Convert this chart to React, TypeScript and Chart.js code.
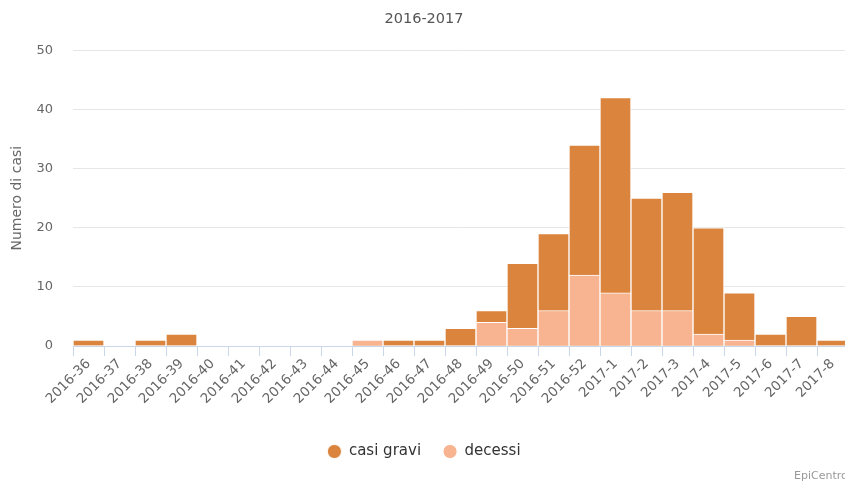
import React, { useEffect, useRef } from "react";
import { Chart, registerables } from "chart.js";

Chart.register(...registerables);

const categories = [
  "2016-36", "2016-37", "2016-38", "2016-39", "2016-40", "2016-41", "2016-42",
  "2016-43", "2016-44", "2016-45", "2016-46", "2016-47", "2016-48", "2016-49",
  "2016-50", "2016-51", "2016-52", "2017-1", "2017-2", "2017-3", "2017-4",
  "2017-5", "2017-6", "2017-7", "2017-8",
];
const casiGravi = [1, 0, 1, 2, 0, 0, 0, 0, 0, 1, 1, 1, 3, 6, 14, 19, 34, 42, 25, 26, 20, 9, 2, 5, 1];
const decessi = [0, 0, 0, 0, 0, 0, 0, 0, 0, 1, 0, 0, 0, 4, 3, 6, 12, 9, 6, 6, 2, 1, 0, 0, 0];
const yTicks = [0, 10, 20, 30, 40, 50];

const FONT = "'DejaVu Sans', sans-serif";

export default function App() {
  const ref = useRef<HTMLCanvasElement | null>(null);
  useEffect(() => {
    if (!ref.current) return;
    const chart = new Chart(ref.current, {
      type: "bar",
      data: {
        labels: categories,
        datasets: [
          {
            label: "casi gravi",
            data: casiGravi,
            backgroundColor: "#db843d",
            borderColor: "#ffffff",
            borderWidth: 1,
            order: 2,
            barPercentage: 1,
            categoryPercentage: 1,
          },
          {
            label: "decessi",
            data: decessi,
            backgroundColor: "#f8b491",
            borderColor: "#ffffff",
            borderWidth: 1,
            order: 1,
            barPercentage: 1,
            categoryPercentage: 1,
          },
        ],
      },
      options: {
        animation: false,
        responsive: false,
        maintainAspectRatio: false,
        layout: { padding: { top: 0, bottom: 14, left: 0, right: 0 } },
        plugins: {
          title: {
            display: true,
            text: "2016-2017",
            color: "#555",
            font: { family: FONT, size: 14.5, weight: "normal" },
            padding: { top: 11, bottom: 22 },
          },
          legend: {
            position: "bottom",
            reverse: true,
            labels: {
              usePointStyle: true,
              pointStyle: "circle",
              boxWidth: 14,
              boxHeight: 10,
              padding: 22,
              color: "#333",
              font: { family: FONT, size: 15 },
            },
          },
          tooltip: { enabled: false },
        },
        scales: {
          x: {
            stacked: true,
            grid: {
              offset: true,
              drawOnChartArea: false,
              drawTicks: true,
              tickLength: 10,
              color: "#ccd6eb",
            },
            border: { color: "#ccd6eb", width: 1 },
            ticks: {
              minRotation: 45,
              maxRotation: 45,
              autoSkip: false,
              color: "#666",
              font: { family: FONT, size: 13.5 },
              padding: 0,
            },
            afterFit: (s: any) => { s.height = 76; },
          },
          y: {
            stacked: false,
            min: 0,
            max: 50,
            afterBuildTicks: (s: any) => { s.ticks = yTicks.map((v) => ({ value: v })); },
            grid: { color: "#e6e6e6", drawTicks: false },
            border: { display: false },
            ticks: {
              color: "#666",
              font: { family: FONT, size: 13 },
              padding: 20,
            },
            title: {
              display: true,
              text: "Numero di casi",
              color: "#666",
              font: { family: FONT, size: 14 },
              padding: { top: 9, bottom: 0 },
            },
            afterFit: (s: any) => { s.width = 73; },
          },
        },
      },
    });
    return () => chart.destroy();
  }, []);
  return (
    <div style={{ position: "fixed", left: 0, top: 0, width: 845, height: 483, overflow: "hidden", background: "#fff" }}>
      <canvas ref={ref} width={848} height={483} style={{ display: "block" }} />
      <span style={{ position: "absolute", left: 794, top: 469, fontFamily: FONT, fontSize: 11, color: "#999", whiteSpace: "nowrap" }}>EpiCentro</span>
    </div>
  );
}
